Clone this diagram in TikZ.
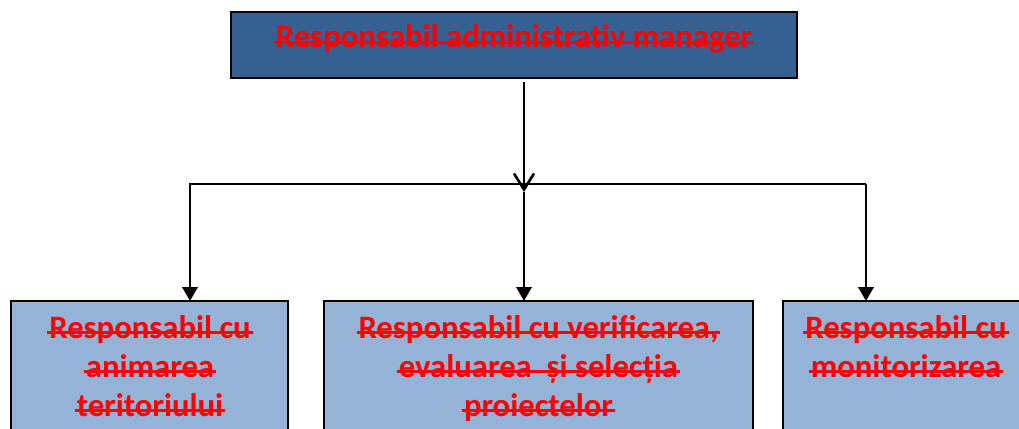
\documentclass[tikz,border=0pt]{standalone}
\usepackage{fontspec}
\setmainfont{Carlito}
\usetikzlibrary{arrows.meta}
\definecolor{topblue}{RGB}{55,96,146}
\definecolor{lightblue}{RGB}{149,179,215}
\newsavebox{\strkbox}
\newlength{\strklen}
\newcommand{\strk}[1]{\leavevmode\sbox{\strkbox}{#1}\setlength{\strklen}{\wd\strkbox}\addtolength{\strklen}{3pt}\rlap{\kern-1.5pt\rule[3.2pt]{\strklen}{2.3pt}}\usebox{\strkbox}}
\begin{document}
\begin{tikzpicture}[x=0.75pt,y=-0.75pt,
  box/.style={draw=black, line width=1.3pt, anchor=north west, inner sep=0pt, outer sep=0pt},
  lbl/.style={text=red, font=\bfseries\fontsize{24.5}{29.3}\selectfont, align=center, inner sep=0pt},
  conn/.style={line width=2pt, black},
  tipfill/.style={-{Triangle[length=10.5pt,width=11.5pt]}},
  tipopen/.style={-{Straight Barb[length=12pt,width=15pt,line width=2pt]}}
]
\useasboundingbox (0,0) rectangle (1019,428);
% boxes
\node[box, fill=topblue, minimum width=424.5pt, minimum height=49.5pt] (top) at (231,12) {};
\node[box, fill=lightblue, minimum width=207.75pt, minimum height=112.5pt] (b1) at (11,301) {};
\node[box, fill=lightblue, minimum width=321.75pt, minimum height=112.5pt] (b2) at (324,301) {};
\node[box, fill=lightblue, minimum width=184.5pt, minimum height=112.5pt] (b3) at (783,301) {};
% labels
\node[lbl, anchor=base] (t0) at (514,48) {\strk{Responsabil administrativ manager}};
\node[lbl, anchor=north] (t1) at (150,315) {\strk{Responsabil cu}\\\strk{animarea}\\\strk{teritoriului}};
\node[lbl, anchor=north] (t2) at (538.5,315) {\strk{Responsabil cu verificarea,}\\\strk{evaluarea\ \ și selecția}\\\strk{proiectelor}};
\node[lbl, anchor=north] (t3) at (906,315) {\strk{Responsabil cu}\\\strk{monitorizarea}};
% connector points
\coordinate (src) at (524,82);
\coordinate (split) at (524,192);
\coordinate (hubL) at (189,184);
\coordinate (hubR) at (866,184);
\coordinate (hubLx) at (190,184);
% connectors
\draw[conn] (hubL) -- (hubR);
\draw[conn, tipopen] (src) -- (split);
\draw[conn, tipfill] (split) -- (split |- b2.north);
\draw[conn, tipfill] (hubLx) -- (hubLx |- b1.north);
\draw[conn, tipfill] (hubR) -- (hubR |- b3.north);
\end{tikzpicture}
\end{document}
